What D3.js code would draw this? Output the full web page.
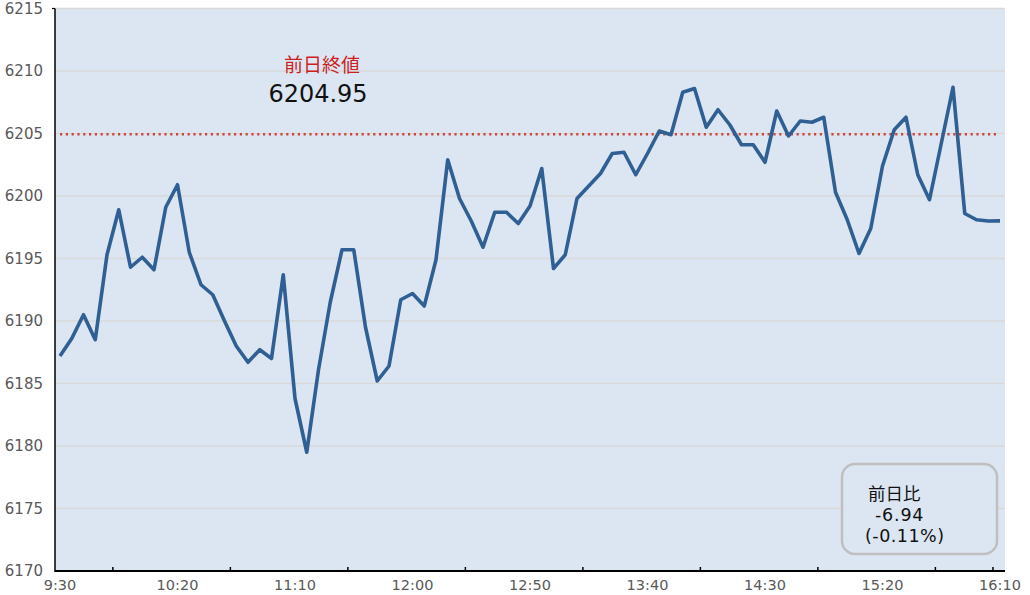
<!DOCTYPE html>
<html><head><meta charset="utf-8">
<script src="https://cdn.jsdelivr.net/npm/d3@7/dist/d3.min.js"></script>
<style>html,body{margin:0;padding:0;background:#fff;}svg{display:block;font-family:"DejaVu Sans","Noto Sans CJK JP",sans-serif;}</style>
</head><body><svg id="c" width="1030" height="595"></svg>
<script>
// ---- data ----
const startTime = "9:30";
const stepMinutes = 5;
const values = [
  6187.2, 6188.6, 6190.5, 6188.5, 6195.3, 6198.9, 6194.3, 6195.1, 6194.1, 6199.1,
  6200.9, 6195.5, 6192.9, 6192.1, 6190.0, 6188.0, 6186.7, 6187.7, 6187.0, 6193.7,
  6183.8, 6179.5, 6186.1, 6191.5, 6195.7, 6195.7, 6189.5, 6185.2, 6186.4, 6191.7,
  6192.2, 6191.2, 6194.9, 6202.9, 6199.8, 6198.0, 6195.9, 6198.7, 6198.7, 6197.8,
  6199.2, 6202.2, 6194.2, 6195.3, 6199.8, 6200.8, 6201.8, 6203.4, 6203.5, 6201.7,
  6203.4, 6205.2, 6204.9, 6208.3, 6208.6, 6205.5, 6206.9, 6205.7, 6204.1, 6204.1,
  6202.7, 6206.8, 6204.8, 6206.0, 6205.9, 6206.3, 6200.3, 6198.1, 6195.4, 6197.4,
  6202.4, 6205.3, 6206.3, 6201.7, 6199.7, 6204.2, 6208.7, 6198.6, 6198.1, 6198.0,
  6198.01
];
const categories = values.map((v, i) => {
  const [h, m] = startTime.split(":").map(Number);
  const t = h * 60 + m + i * stepMinutes;
  return Math.floor(t / 60) + ":" + String(t % 60).padStart(2, "0");
});
const xTickLabels = ["9:30","10:20","11:10","12:00","12:50","13:40","14:30","15:20","16:10"];
const xTickMarks = [4.5, 14.5, 24.5, 34.5, 44.5, 54.5, 64.5, 74.5, 79.4]; // category positions of tick marks
const yTicks = [6170, 6175, 6180, 6185, 6190, 6195, 6200, 6205, 6210, 6215];
const prevClose = 6204.95;
const prevCloseLabel = "前日終値";
const change = -6.94;
const changePct = -0.11;
const changeLabel = "前日比";

// ---- layout ----
const svg = d3.select("#c");
const plot = {left: 55, right: 1005, top: 8.5, bottom: 571};
const x = d3.scaleLinear().domain([0, categories.length - 1]).range([60, 1000]);
const y = d3.scaleLinear().domain([6170, 6215]).range([plot.bottom, plot.top]);

svg.append("rect").attr("x", plot.left).attr("y", plot.top)
  .attr("width", plot.right - plot.left).attr("height", plot.bottom - plot.top)
  .attr("fill", "#dce6f2");

// gridlines
svg.append("g").selectAll("line").data(yTicks.filter(d => d !== 6170)).join("line")
  .attr("x1", plot.left).attr("x2", plot.right)
  .attr("y1", d => y(d)).attr("y2", d => y(d))
  .attr("stroke", "#d9d9d9").attr("stroke-width", 1.5);

// y axis labels
svg.append("g").selectAll("text").data(yTicks).join("text")
  .attr("x", 43).attr("y", d => y(d)).attr("dy", "0.36em")
  .attr("text-anchor", "end").attr("font-size", 15).attr("fill", "#595959")
  .text(d => d);

// x axis labels
const labelIdx = xTickLabels.map(l => categories.indexOf(l));
svg.append("g").selectAll("text").data(xTickLabels).join("text")
  .attr("x", (d, i) => x(labelIdx[i])).attr("y", 590)
  .attr("text-anchor", "middle").attr("font-size", 14.5).attr("fill", "#595959")
  .text(d => d);

// previous close dotted line
svg.append("line")
  .attr("x1", x(0)).attr("x2", x(categories.length - 1) - 3)
  .attr("y1", y(prevClose)).attr("y2", y(prevClose))
  .attr("stroke", "#c8453c").attr("stroke-width", 2.5)
  .attr("stroke-dasharray", "2.2,3.6");

// main line
const line = d3.line().x((d, i) => x(i)).y(d => y(d));
svg.append("path").datum(values).attr("d", line)
  .attr("fill", "none").attr("stroke", "#2f5f93").attr("stroke-width", 3.6)
  .attr("stroke-linejoin", "round").attr("stroke-linecap", "butt");

// axes lines
svg.append("line").attr("x1", plot.left).attr("x2", plot.left)
  .attr("y1", plot.top).attr("y2", plot.bottom + 1)
  .attr("stroke", "#000").attr("stroke-width", 1.5);
svg.append("line").attr("x1", plot.left - 3).attr("x2", plot.left)
  .attr("y1", plot.top).attr("y2", plot.top)
  .attr("stroke", "#000").attr("stroke-width", 1.2);
svg.append("line").attr("x1", plot.left).attr("x2", plot.right)
  .attr("y1", plot.bottom).attr("y2", plot.bottom)
  .attr("stroke", "#000").attr("stroke-width", 2);
svg.append("g").selectAll("line").data(xTickMarks).join("line")
  .attr("x1", d => x(d)).attr("x2", d => x(d))
  .attr("y1", plot.bottom).attr("y2", plot.bottom - 4)
  .attr("stroke", "#000").attr("stroke-width", 1.5);

// previous close annotation
svg.append("text").attr("x", 322).attr("y", 72).attr("text-anchor", "middle")
  .attr("font-family", "'Noto Sans CJK JP'")
  .attr("font-size", 19).attr("fill", "#cc1f1f").text(prevCloseLabel);
svg.append("text").attr("x", 318).attr("y", 102).attr("text-anchor", "middle")
  .attr("font-size", 24).attr("fill", "#111").text(prevClose.toFixed(2));

// change box
svg.append("rect").attr("x", 842).attr("y", 464).attr("width", 155).attr("height", 90)
  .attr("rx", 13).attr("fill", "#dce6f2").attr("stroke", "#bfbfbf").attr("stroke-width", 2.5);
const bt = svg.append("g").attr("font-size", 17.5).attr("fill", "#111");
bt.append("text").attr("x", 868).attr("y", 500).attr("font-family", "'Noto Sans CJK JP'").text(changeLabel);
bt.append("text").attr("x", 875).attr("y", 521).attr("letter-spacing", 0.8).text(change.toFixed(2));
bt.append("text").attr("x", 865).attr("y", 542).attr("letter-spacing", 0.5).text("(" + changePct.toFixed(2) + "%)");
</script></body></html>
